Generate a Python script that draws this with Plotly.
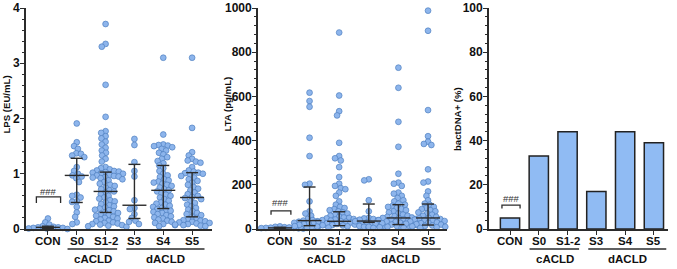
import numpy as np
import plotly.graph_objects as go

categories = ["CON", "S0", "S1-2", "S3", "S4", "S5"]

# ---- LPS (EU/mL) ----
lps_con = [0.19, 0.12, 0.08, 0.05, 0.04, 0.03, 0.03, 0.02, 0.02, 0.01, 0.01, 0.0]
lps_s0 = [1.91, 1.57, 1.50, 1.45, 1.37, 1.36, 1.33, 1.30, 1.12, 1.05, 1.00, 0.97, 0.95,
          0.92, 0.85, 0.62, 0.60, 0.57, 0.50, 0.49, 0.40, 0.30, 0.22, 0.12, 0.09]
lps_s12 = [3.71, 3.35, 3.30, 2.61, 2.03, 1.77, 1.74, 1.68, 1.64, 1.58, 1.53, 1.47, 1.42, 1.38,
           1.33, 1.27, 1.22, 1.12, 1.10, 1.08, 1.06, 1.05, 1.04, 1.03, 1.02, 1.01, 1.00, 0.98,
           0.97, 0.96, 0.95, 0.94, 0.93, 0.92, 0.90, 0.88, 0.85, 0.82, 0.80, 0.78, 0.75, 0.72,
           0.70, 0.68, 0.66, 0.63, 0.60, 0.57, 0.55, 0.52, 0.50, 0.48, 0.45, 0.43, 0.41, 0.39,
           0.37, 0.35, 0.34, 0.32, 0.30, 0.29, 0.27, 0.25, 0.24, 0.22, 0.20, 0.19, 0.17, 0.15,
           0.14, 0.12, 0.11, 0.10, 0.09, 0.08, 0.07, 0.06, 0.05, 0.04]
lps_s3 = [1.63, 1.52, 1.21, 1.05, 0.95, 0.52, 0.38, 0.36, 0.27, 0.20, 0.15, 0.13, 0.09]
lps_s4 = [3.10, 1.71, 1.53, 1.52, 1.51, 1.50, 1.48, 1.45, 1.42, 1.38, 1.35, 1.30, 1.27, 1.23,
          1.19, 1.15, 1.10, 1.05, 1.00, 0.97, 0.94, 0.90, 0.88, 0.86, 0.84, 0.82, 0.80, 0.78,
          0.75, 0.72, 0.70, 0.68, 0.65, 0.62, 0.60, 0.57, 0.54, 0.51, 0.48, 0.46, 0.44, 0.42,
          0.40, 0.38, 0.36, 0.34, 0.33, 0.31, 0.29, 0.27, 0.25, 0.23, 0.21, 0.19, 0.17, 0.15,
          0.13, 0.11, 0.09, 0.07, 0.05]
lps_s5 = [3.10, 1.83, 1.39, 1.33, 1.27, 1.24, 1.22, 1.20, 1.12, 1.06, 1.04, 1.02, 1.01, 1.00,
          0.98, 0.96, 0.93, 0.90, 0.87, 0.84, 0.80, 0.76, 0.73, 0.70, 0.66, 0.63, 0.60, 0.58,
          0.56, 0.54, 0.50, 0.47, 0.44, 0.41, 0.38, 0.35, 0.32, 0.29, 0.27, 0.25, 0.22, 0.20,
          0.18, 0.16, 0.15, 0.14, 0.13, 0.12, 0.11, 0.10, 0.09, 0.08, 0.07, 0.06, 0.05]
lps_median = [0.03, 0.97, 0.68, 0.43, 0.70, 0.57]
lps_q1 = [0.01, 0.48, 0.30, 0.19, 0.37, 0.22]
lps_q3 = [0.05, 1.28, 1.03, 1.17, 1.15, 1.02]

# ---- LTA (pg/mL) ----
lta_con = [12, 10, 8, 7, 6, 5, 5, 4, 3, 2, 1]
lta_s0 = [617, 579, 553, 413, 330, 205, 200, 125, 80, 70, 60, 45, 40, 38, 35, 33, 30, 28,
          25, 20, 18, 15, 12, 10]
lta_s12 = [889, 604, 533, 514, 390, 330, 320, 310, 280, 235, 205, 195, 185, 180, 165, 150,
           125, 110, 100, 95, 90, 85, 80, 75, 70, 65, 60, 55, 52, 50, 48, 45, 43, 40, 38, 36,
           35, 33, 32, 30, 29, 28, 27, 26, 25, 24, 23, 22, 21, 20, 19, 18, 17, 16, 15, 14, 13,
           12, 11, 10, 9, 8, 7, 6, 5]
lta_s3 = [225, 220, 130, 80, 50, 48, 45, 42, 40, 35, 30, 28, 10]
lta_s4 = [730, 639, 485, 372, 250, 210, 205, 195, 165, 160, 150, 140, 130, 125, 115, 110,
          105, 100, 95, 90, 85, 80, 75, 70, 65, 60, 58, 55, 52, 50, 48, 46, 44, 42, 40, 38,
          36, 34, 32, 30, 28, 26, 24, 22, 20, 18, 16, 14, 12, 10, 8, 6, 5]
lta_s5 = [988, 897, 538, 420, 395, 385, 380, 270, 215, 210, 170, 150, 130, 115, 110, 100,
          95, 90, 85, 80, 75, 70, 65, 60, 55, 50, 48, 45, 42, 40, 38, 36, 34, 32, 30, 28, 26,
          24, 22, 20, 18, 16, 14, 12, 10, 8, 6, 5]
lta_median = [5, 38, 35, 36, 50, 50]
lta_q1 = [3, 15, 15, 30, 20, 18]
lta_q3 = [8, 190, 78, 113, 110, 113]

# ---- bactDNA+ (%) ----
bact_pct = [5, 33, 44, 17, 44, 39]

lps_groups = [lps_con, lps_s0, lps_s12, lps_s3, lps_s4, lps_s5]
lta_groups = [lta_con, lta_s0, lta_s12, lta_s3, lta_s4, lta_s5]

DOT_FILL = "#8db5ec"
DOT_LINE = "#4f7fc0"
AX = "#2b2b2b"
TXT = "#111111"
FONT = "Liberation Sans, Arial, sans-serif"

W, H = 677, 269
Y_BOT = (H - 229) / H
Y_TOP = (H - 8) / H
doms = [[26 / W, 212 / W], [258 / W, 447 / W], [489 / W, 668 / W]]
xranges = [[-0.76, 5.69], [-0.74, 5.64], [-0.73, 5.49]]
yranges = [[0, 4], [0, 1000], [0, 100]]


def beeswarm(values, ypx, xpx, diam=4.7):
    vals = np.asarray(values, dtype=float)
    order = np.argsort(-vals, kind="stable")
    placed = []
    xs = np.zeros(len(vals))
    for i in order:
        y = vals[i] * ypx
        near = [(px, py) for px, py in placed if abs(py - y) < diam]
        cands = [0.0]
        for px, py in near:
            dx = np.sqrt(diam ** 2 - (py - y) ** 2)
            cands += [px + dx, px - dx]
        cands.sort(key=lambda c: (abs(c), c))
        for c in cands:
            if all((c - px) ** 2 + (y - py) ** 2 >= diam ** 2 - 1e-6 for px, py in near):
                xs[i] = c
                break
        placed.append((xs[i], y))
    return xs / xpx


fig = go.Figure()


def add_scatter(groups, med, q1, q3, k):
    xa = "x" if k == 0 else f"x{k+1}"
    ya = "y" if k == 0 else f"y{k+1}"
    dom = doms[k]
    xpx = (dom[1] - dom[0]) * W / (xranges[k][1] - xranges[k][0])
    ypx = (Y_TOP - Y_BOT) * H / (yranges[k][1] - yranges[k][0])
    xs, ys = [], []
    for gi, g in enumerate(groups):
        off = beeswarm(g, ypx, xpx)
        xs += list(gi + off)
        ys += list(g)
    fig.add_trace(go.Scatter(x=xs, y=ys, mode="markers", xaxis=xa, yaxis=ya,
                             marker=dict(size=5.8, color=DOT_FILL,
                                         line=dict(color=DOT_LINE, width=0.7)),
                             cliponaxis=False, showlegend=False, hoverinfo="y"))
    ex, ey = [], []
    mw = 12 / xpx
    cw = 6 / xpx
    for gi in range(len(groups)):
        ex += [gi - mw, gi + mw, None, gi, gi, None, gi - cw, gi + cw, None, gi - cw, gi + cw, None]
        ey += [med[gi], med[gi], None, q1[gi], q3[gi], None, q1[gi], q1[gi], None, q3[gi], q3[gi], None]
    fig.add_trace(go.Scatter(x=ex, y=ey, mode="lines", xaxis=xa, yaxis=ya,
                             line=dict(color=AX, width=1.4), showlegend=False,
                             hoverinfo="skip", cliponaxis=False))


add_scatter(lps_groups, lps_median, lps_q1, lps_q3, 0)
add_scatter(lta_groups, lta_median, lta_q1, lta_q3, 1)

fig.add_trace(go.Bar(x=list(range(len(categories))), y=bact_pct, xaxis="x3", yaxis="y3",
                     width=0.67, marker=dict(color="#90bbf3", line=dict(color="#222222", width=1.5)),
                     showlegend=False))

tickfont = dict(family=FONT, size=12, color=TXT)
minor_d = [0.2, 40, 4]
major_d = [1, 200, 20]
for k in range(3):
    sx = "" if k == 0 else str(k + 1)
    fig.layout["xaxis" + sx] = dict(
        domain=doms[k], range=xranges[k], anchor="y" + sx, tickmode="array",
        tickvals=list(range(6)), ticktext=[""] * 6, ticks="outside", ticklen=4,
        tickwidth=1.4, tickcolor=AX, showline=True, linecolor=AX, linewidth=1.8,
        showgrid=False, zeroline=False, automargin=False, fixedrange=True)
    fig.layout["yaxis" + sx] = dict(
        domain=[Y_BOT, Y_TOP], range=yranges[k], anchor="x" + sx, tickmode="array",
        tickvals=list(np.arange(0, yranges[k][1] + 1e-9, major_d[k])),
        ticktext=[f"<b>{v:g}</b>" for v in np.arange(0, yranges[k][1] + 1e-9, major_d[k])],
        ticks="outside", ticklen=4, tickwidth=1.4, tickcolor=AX, showline=True,
        linecolor=AX, linewidth=1.8, showgrid=False, zeroline=False, tickfont=tickfont,
        ticklabelstandoff=-2,
        minor=dict(dtick=minor_d[k], tick0=0, ticks="outside", ticklen=2.5, tickcolor=AX, tickwidth=1),
        automargin=False, fixedrange=True)

shapes = []
annotations = []
titles = ["LPS (EU/mL)", "LTA (pg/mL)", "bactDNA+ (%)"]
title_x = [6, 227, 457]
title_y = [104.5, 104.5, 119]
brackets = [(-0.40, 0.44, 0.58, 0.47, 0.67), (-0.30, 0.37, 82, 64, 118), (-0.28, 0.35, 10.8, 9.3, 13.6)]
lab_font = dict(family=FONT, size=11.5, color=TXT)
for k in range(3):
    sx = "" if k == 0 else str(k + 1)
    xa = "x" + sx
    for ci, cat in enumerate(categories):
        annotations.append(dict(x=ci, y=(H - 240.5) / H, xref=xa, yref="paper",
                                text=f"<b>{cat}</b>", showarrow=False, xanchor="center",
                                yanchor="middle", font=lab_font))
    for (a, b) in [(0.68, 2.4), (2.72, 5.43)]:
        shapes.append(dict(type="line", xref=xa, yref="paper", x0=a, x1=b,
                           y0=(H - 249) / H, y1=(H - 249) / H,
                           line=dict(color=AX, width=1.4)))
    for (xc, lab) in [(1.55, "cACLD"), (4.07, "dACLD")]:
        annotations.append(dict(x=xc, y=(H - 258.5) / H, xref=xa, yref="paper",
                                text=f"<b>{lab}</b>", showarrow=False, xanchor="center",
                                yanchor="middle", font=lab_font))
    annotations.append(dict(x=title_x[k] / W, y=(H - title_y[k]) / H, xref="paper", yref="paper",
                            text=f"<b>{titles[k]}</b>", textangle=-90, showarrow=False,
                            xanchor="center", yanchor="middle",
                            font=dict(family=FONT, size=9.6, color=TXT)))
    bx0, bx1, bt, be, btx = brackets[k]
    ya = "y" + sx
    shapes.append(dict(type="path", xref=xa, yref=ya,
                       path=f"M {bx0} {be} L {bx0} {bt} L {bx1} {bt} L {bx1} {be}",
                       line=dict(color=AX, width=1.3)))
    annotations.append(dict(x=(bx0 + bx1) / 2, y=btx, xref=xa, yref=ya, text="###",
                            showarrow=False, xanchor="center", yanchor="middle",
                            font=dict(family=FONT, size=9.5, color="#333333")))

fig.update_layout(width=W, height=H, margin=dict(l=0, r=0, t=0, b=0, autoexpand=False),
                  paper_bgcolor="white", plot_bgcolor="white", showlegend=False,
                  shapes=shapes, annotations=annotations, bargap=0.33)

fig.write_html("out.html", config={"displayModeBar": False},
               post_script="document.body.style.margin='0';document.body.style.padding='0';document.body.style.overflow='hidden';")
